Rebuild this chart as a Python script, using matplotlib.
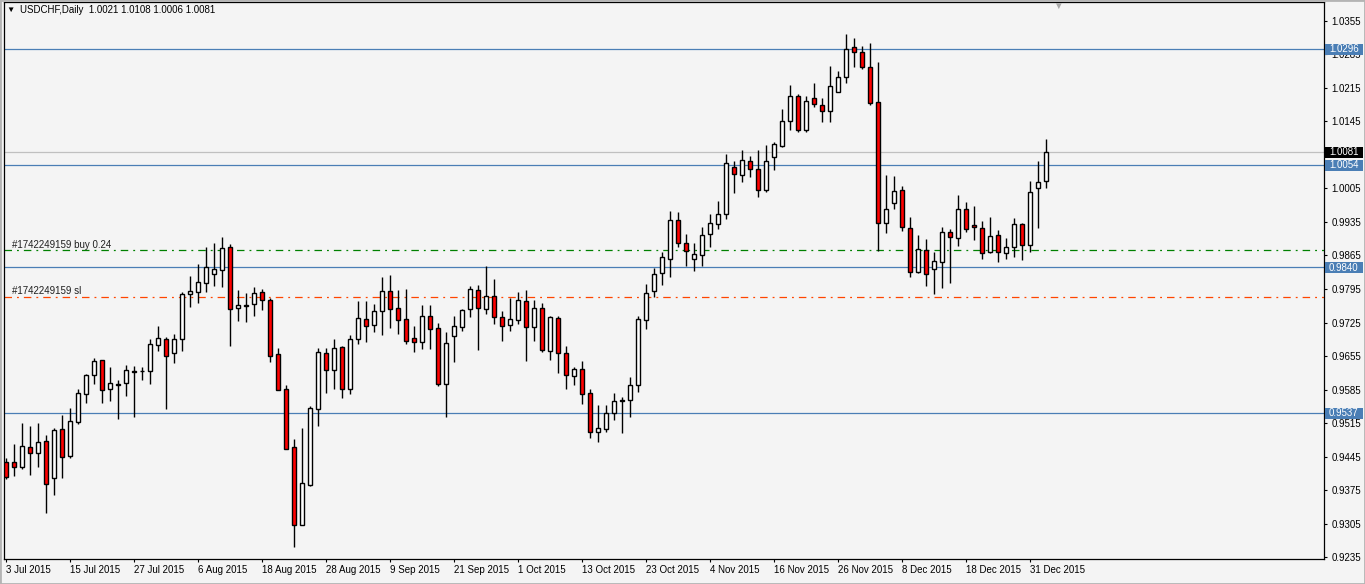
import matplotlib
matplotlib.use('Agg')
import matplotlib.pyplot as plt
import matplotlib.transforms as mtransforms
from matplotlib.patches import Rectangle
import numpy as np

# Daily USDCHF bars, 3 Jul 2015 .. early Jan 2016
opens = [0.9433, 0.9433, 0.9424, 0.9465, 0.9452, 0.9478, 0.9400, 0.9502, 0.9446, 0.9517,
         0.9576, 0.9615, 0.9646, 0.9586, 0.9595, 0.9598, 0.9624, 0.9624, 0.9623, 0.9678,
         0.9691, 0.9662, 0.9690, 0.9784, 0.9788, 0.9807, 0.9826, 0.9834, 0.9882, 0.9755,
         0.9760, 0.9763, 0.9788, 0.9771, 0.9659, 0.9586, 0.9465, 0.9302, 0.9386, 0.9545,
         0.9661, 0.9625, 0.9673, 0.9586, 0.9690, 0.9732, 0.9719, 0.9748, 0.9790, 0.9755,
         0.9732, 0.9692, 0.9684, 0.9738, 0.9713, 0.9596, 0.9696, 0.9715, 0.9753, 0.9792,
         0.9753, 0.9780, 0.9736, 0.9719, 0.9730, 0.9769, 0.9715, 0.9755, 0.9665, 0.9734,
         0.9661, 0.9613, 0.9627, 0.9577, 0.9496, 0.9502, 0.9536, 0.9561, 0.9563, 0.9594,
         0.9730, 0.9790, 0.9828, 0.9858, 0.9938, 0.9890, 0.9857, 0.9865, 0.9909, 0.9930,
         0.9951, 1.0049, 1.0032, 1.0062, 1.0045, 1.0001, 1.0070, 1.0093, 1.0145, 1.0197,
         1.0126, 1.0193, 1.0178, 1.0166, 1.0206, 1.0237, 1.0300, 1.0289, 1.0258, 1.0185,
         0.9932, 0.9974, 1.0001, 0.9922, 0.9831, 0.9876, 0.9836, 0.9851, 0.9913, 0.9901,
         0.9961, 0.9928, 0.9922, 0.9872, 0.9907, 0.9870, 0.9882, 0.9930, 0.9886, 1.0005,
         1.0021]
highs = [0.9442, 0.9471, 0.9516, 0.9509, 0.9516, 0.9490, 0.9504, 0.9532, 0.9547, 0.9586,
         0.9618, 0.9650, 0.9647, 0.9633, 0.9604, 0.9636, 0.9634, 0.9632, 0.9691, 0.9717,
         0.9694, 0.9700, 0.9789, 0.9822, 0.9847, 0.9882, 0.9890, 0.9904, 0.9889, 0.9793,
         0.9786, 0.9799, 0.9795, 0.9777, 0.9671, 0.9594, 0.9481, 0.9504, 0.9551, 0.9671,
         0.9671, 0.9690, 0.9675, 0.9699, 0.9770, 0.9770, 0.9764, 0.9820, 0.9824, 0.9792,
         0.9794, 0.9717, 0.9761, 0.9761, 0.9723, 0.9705, 0.9738, 0.9753, 0.9801, 0.9803,
         0.9842, 0.9815, 0.9748, 0.9776, 0.9788, 0.9792, 0.9773, 0.9765, 0.9738, 0.9738,
         0.9675, 0.9632, 0.9644, 0.9586, 0.9552, 0.9552, 0.9577, 0.9569, 0.9611, 0.9738,
         0.9805, 0.9838, 0.9873, 0.9958, 0.9956, 0.9910, 0.9890, 0.9924, 0.9951, 0.9979,
         1.0077, 1.0062, 1.0085, 1.0073, 1.0085, 1.0095, 1.0101, 1.0170, 1.0220, 1.0201,
         1.0197, 1.0224, 1.0193, 1.0260, 1.0251, 1.0327, 1.0318, 1.0302, 1.0308, 1.0268,
         1.0032, 1.0030, 1.0009, 0.9945, 0.9907, 0.9899, 0.9872, 0.9924, 0.9920, 0.9991,
         0.9976, 0.9968, 0.9936, 0.9945, 0.9918, 0.9901, 0.9943, 0.9932, 1.0020, 1.0062,
         1.0108]
lows = [0.9398, 0.9405, 0.9420, 0.9407, 0.9423, 0.9328, 0.9366, 0.9401, 0.9443, 0.9513,
        0.9556, 0.9597, 0.9558, 0.9561, 0.9524, 0.9572, 0.9528, 0.9604, 0.9597, 0.9666,
        0.9545, 0.9641, 0.9666, 0.9757, 0.9766, 0.9789, 0.9802, 0.9800, 0.9677, 0.9729,
        0.9727, 0.9739, 0.9751, 0.9642, 0.9584, 0.9462, 0.9257, 0.9302, 0.9384, 0.9510,
        0.9577, 0.9586, 0.9568, 0.9576, 0.9681, 0.9685, 0.9706, 0.9698, 0.9714, 0.9700,
        0.9681, 0.9664, 0.9669, 0.9669, 0.9592, 0.9527, 0.9642, 0.9707, 0.9736, 0.9667,
        0.9742, 0.9721, 0.9686, 0.9707, 0.9721, 0.9644, 0.9686, 0.9663, 0.9646, 0.9620,
        0.9586, 0.9594, 0.9554, 0.9483, 0.9475, 0.9496, 0.9521, 0.9494, 0.9527, 0.9579,
        0.9711, 0.9778, 0.9804, 0.9819, 0.9883, 0.9844, 0.9833, 0.9844, 0.9883, 0.9921,
        0.9942, 0.9996, 1.0018, 1.0028, 0.9988, 0.9998, 1.0043, 1.0091, 1.0126, 1.0122,
        1.0122, 1.0174, 1.0143, 1.0143, 1.0206, 1.0224, 1.0258, 1.0254, 1.0178, 0.9874,
        0.9911, 0.9961, 0.9915, 0.9819, 0.9829, 0.9802, 0.9785, 0.9798, 0.9808, 0.9884,
        0.9913, 0.9897, 0.9857, 0.9870, 0.9851, 0.9857, 0.9861, 0.9856, 0.9872, 0.9923,
        1.0006]
closes = [0.9402, 0.9423, 0.9467, 0.9452, 0.9475, 0.9387, 0.9500, 0.9445, 0.9519, 0.9577,
          0.9615, 0.9644, 0.9584, 0.9598, 0.9597, 0.9625, 0.9622, 0.9624, 0.9680, 0.9692,
          0.9655, 0.9690, 0.9784, 0.9790, 0.9809, 0.9840, 0.9836, 0.9880, 0.9753, 0.9761,
          0.9762, 0.9786, 0.9771, 0.9655, 0.9584, 0.9462, 0.9302, 0.9389, 0.9546, 0.9663,
          0.9625, 0.9671, 0.9586, 0.9690, 0.9734, 0.9717, 0.9748, 0.9790, 0.9753, 0.9730,
          0.9686, 0.9684, 0.9738, 0.9711, 0.9596, 0.9682, 0.9717, 0.9751, 0.9794, 0.9755,
          0.9780, 0.9736, 0.9717, 0.9732, 0.9771, 0.9715, 0.9755, 0.9667, 0.9736, 0.9661,
          0.9615, 0.9627, 0.9575, 0.9496, 0.9504, 0.9536, 0.9561, 0.9563, 0.9594, 0.9732,
          0.9786, 0.9826, 0.9861, 0.9938, 0.9890, 0.9874, 0.9867, 0.9907, 0.9932, 0.9951,
          1.0057, 1.0034, 1.0064, 1.0045, 1.0001, 1.0062, 1.0097, 1.0145, 1.0197, 1.0126,
          1.0187, 1.0181, 1.0166, 1.0218, 1.0237, 1.0295, 1.0289, 1.0258, 1.0183, 0.9932,
          0.9961, 0.9999, 0.9924, 0.9830, 0.9878, 0.9826, 0.9853, 0.9913, 0.9903, 0.9961,
          0.9920, 0.9924, 0.9870, 0.9905, 0.9872, 0.9882, 0.9930, 0.9886, 0.9997, 1.0019,
          1.0081]

date_labels = ['3 Jul 2015', '15 Jul 2015', '27 Jul 2015', '6 Aug 2015', '18 Aug 2015',
               '28 Aug 2015', '9 Sep 2015', '21 Sep 2015', '1 Oct 2015', '13 Oct 2015',
               '23 Oct 2015', '4 Nov 2015', '16 Nov 2015', '26 Nov 2015', '8 Dec 2015',
               '18 Dec 2015', '31 Dec 2015']
bars_per_label = 8

price_ticks = [0.9235, 0.9305, 0.9375, 0.9445, 0.9515, 0.9585, 0.9655, 0.9725, 0.9795,
               0.9865, 0.9935, 1.0005, 1.0075, 1.0145, 1.0215, 1.0285, 1.0355]
# scale labels hidden behind the price tags on the chart
hidden_ticks = [1.0075]

level_lines = [1.0296, 1.0054, 0.9840, 0.9537]
bid_price = 1.0081
buy_price = 0.9876
sl_price = 0.9778
order_id = '#1742249159'
title = 'USDCHF,Daily  1.0021 1.0108 1.0006 1.0081'

W, H = 1365, 584
BG = '#F4F4F4'
BLUE = '#4A7EB5'
plt.rcParams['font.family'] = ['Liberation Sans', 'DejaVu Sans']

fig = plt.figure(figsize=(W / 100, H / 100), dpi=100)
fig.patch.set_facecolor(BG)
ax = fig.add_axes([4 / W, 1 - 559 / H, 1320 / W, 557 / H])
ax.set_facecolor(BG)

x = np.arange(len(opens))
o = np.array(opens)
c = np.array(closes)
up = c >= o

# wicks then bodies
ax.vlines(x, lows, highs, color='black', lw=1.0, zorder=3)
ax.bar(x, np.abs(c - o), bottom=np.minimum(o, c), width=0.5,
       color=np.where(up, 'white', '#FF0000'), edgecolor='black', linewidth=1.0, zorder=4)

ax.set_xlim(-0.19, 164.8)
ax.set_ylim(0.92314, 1.0394)

# horizontal levels
for lv in level_lines:
    ax.axhline(lv, color=BLUE, lw=0.9, zorder=2)
ax.axhline(bid_price, color='#C0C0C0', lw=0.9, zorder=2)
ax.axhline(buy_price, color='#008000', lw=0.9, ls=(0, (6, 4, 1.5, 4)), zorder=2)
ax.axhline(sl_price, color='#FF4500', lw=0.9, ls=(0, (6, 4, 1.5, 4)), zorder=2)

tr = mtransforms.blended_transform_factory(ax.transAxes, ax.transData)
ax.text(0.006, buy_price + 0.00117, order_id + ' buy 0.24', transform=tr,
        fontsize=7, va='center', ha='left', color='#202020')
ax.text(0.006, sl_price + 0.00125, order_id + ' sl', transform=tr,
        fontsize=7, va='center', ha='left', color='#202020')

# axes styling
ax.yaxis.tick_right()
ax.set_yticks(price_ticks)
ax.set_yticklabels(['' if p in hidden_ticks else f'{p:.4f}' for p in price_ticks])
ax.tick_params(axis='y', direction='out', length=2.5, width=0.8, pad=3, labelsize=7, colors='black')
ax.set_xticks(x[::bars_per_label][:len(date_labels)])
ax.set_xticklabels(date_labels, ha='left')
ax.tick_params(axis='x', direction='out', length=2.5, width=0.8, pad=2, labelsize=7)
for s in ax.spines.values():
    s.set_color('black')
    s.set_linewidth(0.9)

# price tags on the right scale
px = 1 / 4791.0
for lv, fc in [(lv, BLUE) for lv in level_lines] + [(bid_price, 'black')]:
    ax.add_patch(Rectangle((1 + 1 / 1320, lv - 6 * px), 38 / 1320, 11 * px, transform=tr,
                           facecolor=fc, edgecolor='none', clip_on=False, zorder=6))
    ax.text(1 + 5 / 1320, lv - 0.5 * px, f'{lv:.4f}', transform=tr, color='white', fontsize=7,
            va='center', ha='left', zorder=7, clip_on=False)

# header
fig.text(6 / W, 1 - 10 / H, '\u25bc', fontsize=6, va='center', ha='left', color='black')
fig.text(20 / W, 1 - 10 / H, title, fontsize=7, va='center', ha='left', color='black')
fig.text(1058 / W, 1 - 6 / H, '\u25bc', fontsize=7, va='center', ha='center', color='#A8A8A8')

# outer frame
fig.add_artist(Rectangle((0, 0), 1, 1, transform=fig.transFigure, fill=False,
                         edgecolor='#B4B4B4', linewidth=2))

fig.savefig('out.png', dpi=100, facecolor=BG)
